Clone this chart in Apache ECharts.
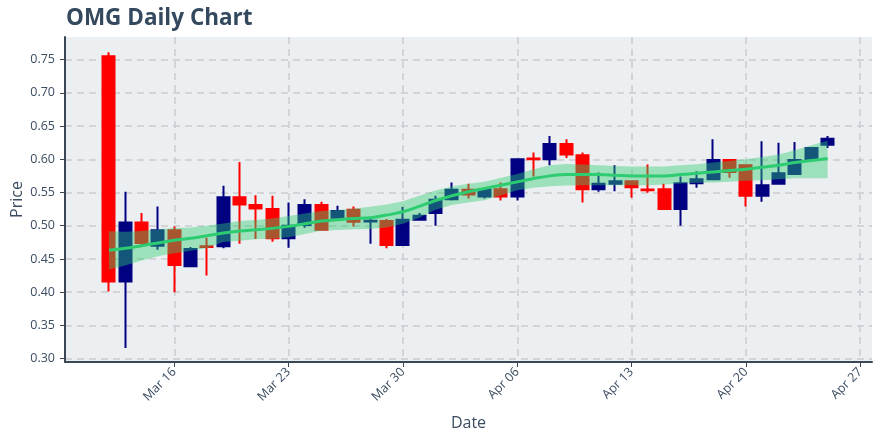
<!DOCTYPE html>
<html><head><meta charset="utf-8">
<script src="https://cdn.jsdelivr.net/npm/echarts@6/dist/echarts.min.js"></script>
<style>html,body{margin:0;padding:0;background:#fff}#c{width:880px;height:440px}</style>
</head><body><div id="c"></div>
<script>
const dates = ['2020-03-12','2020-03-13','2020-03-14','2020-03-15','2020-03-16','2020-03-17','2020-03-18','2020-03-19','2020-03-20','2020-03-21','2020-03-22','2020-03-23','2020-03-24','2020-03-25','2020-03-26','2020-03-27','2020-03-28','2020-03-29','2020-03-30','2020-03-31','2020-04-01','2020-04-02','2020-04-03','2020-04-04','2020-04-05','2020-04-06','2020-04-07','2020-04-08','2020-04-09','2020-04-10','2020-04-11','2020-04-12','2020-04-13','2020-04-14','2020-04-15','2020-04-16','2020-04-17','2020-04-18','2020-04-19','2020-04-20','2020-04-21','2020-04-22','2020-04-23','2020-04-24','2020-04-25'];
const openP  = [0.755,0.416,0.505,0.470,0.493,0.439,0.469,0.469,0.543,0.531,0.525,0.481,0.501,0.531,0.512,0.524,0.5065,0.507,0.471,0.509,0.519,0.540,0.554,0.544,0.555,0.544,0.601,0.600,0.623,0.606,0.555,0.563,0.567,0.5545,0.555,0.525,0.564,0.570,0.599,0.591,0.545,0.563,0.578,0.599,0.622];
const highP  = [0.761,0.551,0.519,0.529,0.499,0.468,0.482,0.560,0.596,0.546,0.545,0.535,0.540,0.536,0.530,0.529,0.511,0.510,0.528,0.519,0.545,0.565,0.563,0.555,0.565,0.601,0.610,0.635,0.630,0.610,0.580,0.591,0.568,0.592,0.563,0.574,0.582,0.630,0.600,0.592,0.627,0.625,0.626,0.618,0.635];
const lowP   = [0.401,0.316,0.470,0.464,0.400,0.438,0.425,0.466,0.473,0.480,0.476,0.467,0.497,0.493,0.511,0.499,0.473,0.466,0.470,0.508,0.500,0.538,0.541,0.541,0.538,0.538,0.574,0.591,0.602,0.535,0.551,0.552,0.542,0.5495,0.524,0.500,0.557,0.570,0.572,0.529,0.536,0.563,0.577,0.598,0.617];
const closeP = [0.416,0.505,0.474,0.493,0.441,0.465,0.468,0.543,0.532,0.526,0.481,0.500,0.531,0.494,0.522,0.506,0.5075,0.471,0.509,0.515,0.539,0.554,0.547,0.555,0.544,0.600,0.600,0.623,0.607,0.555,0.563,0.567,0.558,0.5535,0.525,0.564,0.570,0.599,0.581,0.545,0.561,0.579,0.599,0.617,0.631];
const maP    = [0.463,0.466,0.470,0.474,0.478,0.481,0.485,0.489,0.492,0.494,0.496,0.499,0.503,0.507,0.509,0.511,0.512,0.516,0.521,0.529,0.538,0.545,0.551,0.556,0.561,0.566,0.571,0.575,0.577,0.577,0.577,0.576,0.575,0.575,0.575,0.577,0.579,0.581,0.583,0.585,0.588,0.591,0.595,0.598,0.601];
const bandUp = [0.4915,0.491,0.492,0.4945,0.4965,0.4975,0.500,0.5035,0.507,0.5085,0.511,0.5145,0.5185,0.522,0.5235,0.526,0.5285,0.532,0.537,0.545,0.553,0.559,0.563,0.566,0.572,0.578,0.585,0.591,0.593,0.592,0.591,0.590,0.589,0.589,0.589,0.591,0.5925,0.595,0.5975,0.600,0.6035,0.607,0.6135,0.621,0.628];
const bandLo = [0.434,0.440,0.4475,0.454,0.4585,0.4625,0.466,0.4755,0.4775,0.4795,0.4805,0.4825,0.4875,0.4925,0.4935,0.4945,0.495,0.4975,0.503,0.512,0.524,0.531,0.535,0.5385,0.546,0.5535,0.557,0.5595,0.5605,0.561,0.561,0.561,0.561,0.561,0.562,0.5635,0.5645,0.565,0.566,0.5675,0.5685,0.570,0.5715,0.5715,0.5715];
const xTickDates = ['2020-03-16','2020-03-23','2020-03-30','2020-04-06','2020-04-13','2020-04-20','2020-04-27'];
const yTicks = [0.30,0.35,0.40,0.45,0.50,0.55,0.60,0.65,0.70,0.75];

const DAY = 86400000;
const REF = Date.UTC(2020, 2, 16);
const MONTHS = ['Jan','Feb','Mar','Apr','May','Jun','Jul','Aug','Sep','Oct','Nov','Dec'];
const toDay = d => (Date.parse(d + 'T00:00:00Z') - REF) / DAY;
const xs = dates.map(toDay);
const xTicks = xTickDates.map(toDay);

const candleData = xs.map((x, i) => [x, openP[i], closeP[i], lowP[i], highP[i]]);
const maData = xs.map((x, i) => [x, maP[i]]);

const FONT = 'Open Sans, Liberation Sans, Arial';
const txt = '#3b4d61';
const gridC = '#c9cccf';
const axisC = '#3a4756';
const chart = echarts.init(document.getElementById('c'), null, {renderer: 'canvas'});
chart.setOption({
  animation: false,
  backgroundColor: '#ffffff',
  title: {
    text: 'OMG Daily Chart', left: 61, top: 2,
    textStyle: {fontFamily: FONT, fontSize: 22.5, fontWeight: 'bold', color: '#34495e'}
  },
  grid: {left: 65, right: 8, top: 37, bottom: 78, outerBoundsMode: 'none', containLabel: false,
         show: true, backgroundColor: '#eceff1', borderWidth: 0},
  xAxis: {
    type: 'value', min: -6.69, max: 42.72,
    name: 'Date', nameLocation: 'middle', nameGap: 53,
    nameTextStyle: {fontFamily: FONT, fontSize: 16, color: txt},
    axisLine: {show: true, onZero: false, lineStyle: {color: axisC, width: 2}},
    axisTick: {show: true, length: 5, customValues: xTicks, lineStyle: {color: axisC}},
    splitLine: {show: true, lineStyle: {color: gridC, type: [7, 5], width: 1.5}},
    axisLabel: {
      customValues: xTicks, rotate: 45, fontSize: 12.5, color: txt,
      fontFamily: FONT, margin: 8,
      formatter: v => {
        const d = new Date(REF + Math.round(v) * DAY);
        return MONTHS[d.getUTCMonth()] + ' ' + String(d.getUTCDate()).padStart(2, '0');
      }
    }
  },
  yAxis: {
    type: 'value', min: 0.2949, max: 0.784,
    name: 'Price', nameLocation: 'middle', nameGap: 40, nameMoveOverlap: false,
    nameTextStyle: {fontFamily: FONT, fontSize: 16, color: txt},
    axisLine: {show: true, onZero: false, lineStyle: {color: axisC, width: 2}},
    axisTick: {show: true, length: 5, customValues: yTicks, lineStyle: {color: axisC}},
    splitLine: {show: true, lineStyle: {color: gridC, type: [7, 5], width: 1.5}},
    axisLabel: {
      customValues: yTicks, fontSize: 12.5, color: txt,
      fontFamily: FONT, margin: 10,
      formatter: v => v.toFixed(2)
    }
  },
  series: [
    {
      type: 'candlestick', data: candleData, encode: {x: 0, y: [1, 2, 3, 4]},
      barWidth: 12.6, z: 2,
      itemStyle: {color: '#000080', color0: '#ff0000', borderColor: '#000080', borderColor0: '#ff0000', borderWidth: 2}
    },
    {
      type: 'custom', data: [[xs[0], bandLo[0]]], silent: true, z: 5,
      renderItem: (params, api) => {
        const pts = [];
        for (let i = 0; i < xs.length; i++) pts.push(api.coord([xs[i], bandUp[i]]));
        for (let i = xs.length - 1; i >= 0; i--) pts.push(api.coord([xs[i], bandLo[i]]));
        return {type: 'polygon', shape: {points: pts}, style: {fill: 'rgba(46,204,113,0.42)'}};
      }
    },
    {
      type: 'line', data: maData, symbol: 'none', smooth: 0.4, z: 6,
      lineStyle: {color: '#2ecc71', width: 3}
    }
  ]
});
</script></body></html>
